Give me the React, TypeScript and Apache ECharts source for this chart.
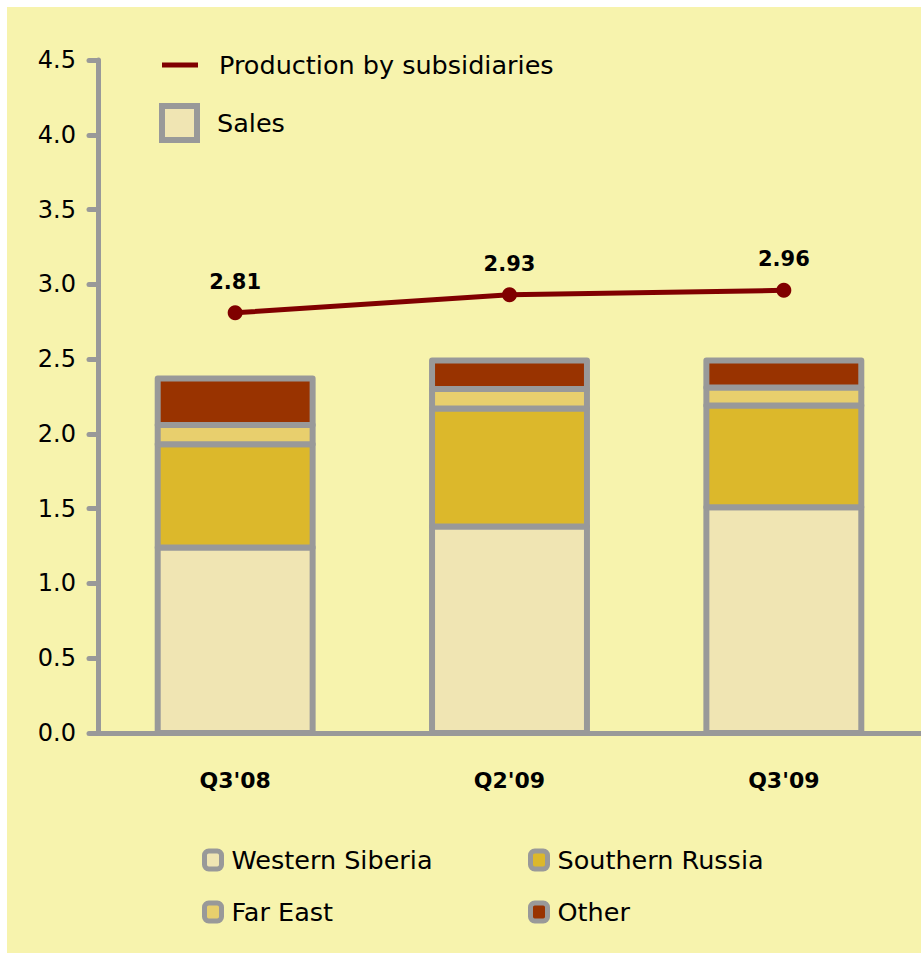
import React, { useEffect, useRef } from "react";
import * as echarts from "echarts";

const categories = ["Q3'08", "Q2'09", "Q3'09"];
const westernSiberia = [1.24, 1.38, 1.51];
const southernRussia = [0.69, 0.79, 0.68];
const farEast = [0.13, 0.13, 0.12];
const other = [0.31, 0.19, 0.18];
const production = [2.81, 2.93, 2.96];
const yTicks = { min: 0, max: 4.5, interval: 0.5 };

const FONT = "DejaVu Sans";
const BORDER = "#999999";
const colors = {
  ws: "#F0E5B3",
  sr: "#DCB82B",
  fe: "#E8CF6D",
  other: "#993300",
  line: "#800000",
  bg: "#F7F3AD",
};

export default function App() {
  const ref = useRef<HTMLDivElement>(null);
  useEffect(() => {
    if (!ref.current) return;
    const chart = echarts.init(ref.current, null, { renderer: "svg" });
    const stackOrder: [string, number[], string][] = [
      ["Western Siberia", westernSiberia, colors.ws],
      ["Southern Russia", southernRussia, colors.sr],
      ["Far East", farEast, colors.fe],
      ["Other", other, colors.other],
    ];
    const bases = categories.map(() => 0);
    const stackSeries = stackOrder.map(([name, values, color]) => {
      const data = categories.map((_, i) => {
        const base = bases[i];
        bases[i] = base + values[i];
        return [i, base, base + values[i]];
      });
      return {
        name,
        type: "custom",
        data,
        encode: { x: 0, y: [1, 2] },
        itemStyle: { color },
        z: 2,
        silent: true,
        renderItem: (params: any, api: any) => {
          const x = api.value(0);
          const p0 = api.coord([x, api.value(1)]);
          const p1 = api.coord([x, api.value(2)]);
          const w = api.size([1, 0])[0] * 0.5647;
          return {
            type: "rect",
            shape: { x: p1[0] - w / 2, y: p1[1], width: w, height: p0[1] - p1[1] },
            style: { fill: color, stroke: BORDER, lineWidth: 6, lineJoin: "round" },
          };
        },
      };
    });
    const legendText = { fontFamily: FONT, fontSize: 25.5, color: "#000" };
    const bottomIcon = (name: string, color: string) => ({
      name,
      icon: "roundRect",
      itemStyle: { color, borderColor: BORDER, borderWidth: 5 },
    });
    chart.setOption({
      animation: false,
      backgroundColor: colors.bg,
      textStyle: { fontFamily: FONT },
      grid: { left: 91, right: 0, top: 53, bottom: 220, containLabel: false },
      xAxis: {
        type: "category",
        data: categories,
        z: 5,
        axisLine: { lineStyle: { color: BORDER, width: 5, cap: "round" } },
        axisTick: { length: 9, lineStyle: { color: BORDER, width: 5, cap: "round" } },
        axisLabel: { fontFamily: FONT, fontSize: 22, fontWeight: "bold", color: "#000", margin: 36 },
      },
      yAxis: {
        type: "value",
        min: yTicks.min,
        max: yTicks.max,
        interval: yTicks.interval,
        splitLine: { show: false },
        axisLine: { show: true, lineStyle: { color: BORDER, width: 5, cap: "round" } },
        axisTick: { show: true, length: 9, lineStyle: { color: BORDER, width: 5, cap: "round" } },
        axisLabel: {
          fontFamily: FONT,
          fontSize: 24,
          color: "#000",
          margin: 22,
          formatter: (v: number) => v.toFixed(1),
        },
      },
      legend: [
        {
          data: [{ name: "Production by subsidiaries", icon: "rect", itemStyle: { color: colors.line, borderWidth: 0 } }],
          left: 155,
          top: 45,
          padding: 0,
          itemWidth: 36,
          itemHeight: 5,
          textStyle: { ...legendText, padding: [0, 0, 0, 16] },
          selectedMode: false,
        },
        {
          data: [{ name: "Sales", icon: "rect", itemStyle: { color: colors.ws, borderColor: BORDER, borderWidth: 6 } }],
          left: 152,
          top: 96,
          padding: 0,
          itemWidth: 35,
          itemHeight: 34,
          textStyle: { ...legendText, padding: [0, 0, 0, 15] },
          selectedMode: false,
        },
        {
          orient: "vertical",
          data: [bottomIcon("Western Siberia", colors.ws), bottomIcon("Far East", colors.fe)],
          left: 195,
          top: 840,
          padding: 0,
          itemGap: 26,
          itemWidth: 17,
          itemHeight: 18,
          textStyle: { ...legendText, padding: [0, 0, 0, 5] },
          selectedMode: false,
        },
        {
          orient: "vertical",
          data: [bottomIcon("Southern Russia", colors.sr), bottomIcon("Other", colors.other)],
          left: 521,
          top: 840,
          padding: 0,
          itemGap: 26,
          itemWidth: 17,
          itemHeight: 18,
          textStyle: { ...legendText, padding: [0, 0, 0, 5] },
          selectedMode: false,
        },
      ],
      series: [
        ...stackSeries,
        { name: "Sales", type: "line", data: [] },
        {
          name: "Production by subsidiaries",
          type: "line",
          data: production,
          symbol: "circle",
          symbolSize: 15,
          z: 6,
          lineStyle: { color: colors.line, width: 5 },
          itemStyle: { color: colors.line },
          label: {
            show: true,
            position: "top",
            distance: 13,
            fontFamily: FONT,
            fontSize: 21,
            fontWeight: "bold",
            color: "#000",
            formatter: (p: any) => p.value.toFixed(2),
          },
          emphasis: { disabled: true },
        },
      ],
    });
    return () => chart.dispose();
  }, []);
  return (
    <div style={{ position: "absolute", left: 0, top: 0, width: 921, height: 953, background: "#fff" }}>
      <div ref={ref} style={{ position: "absolute", left: 7, top: 7, width: 914, height: 946 }} />
    </div>
  );
}
